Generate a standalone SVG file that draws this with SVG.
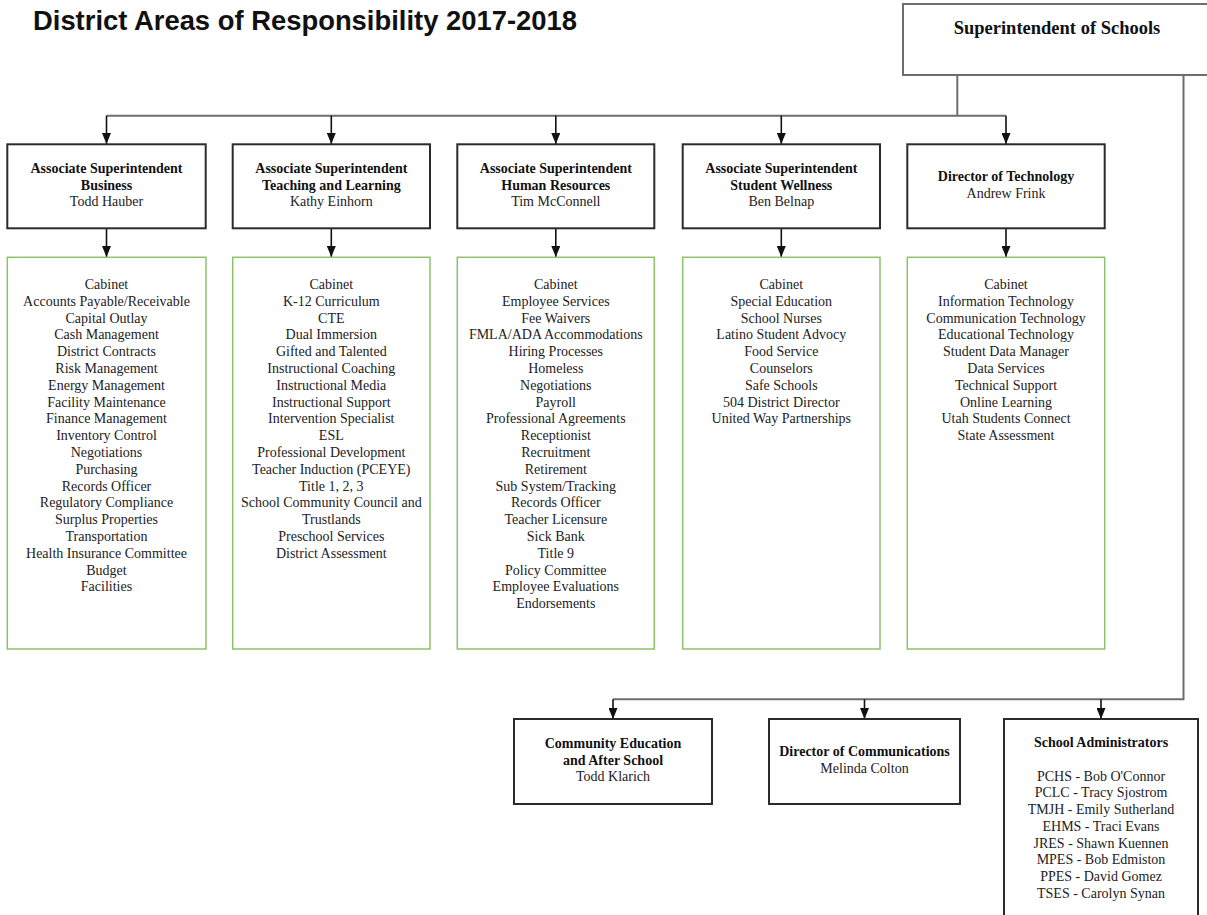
<svg xmlns="http://www.w3.org/2000/svg" width="1207" height="915" viewBox="0 0 1207 915">
<style>
.title{font-family:"Liberation Sans",Arial,sans-serif;font-weight:bold;font-size:27.4px;fill:#111}
.hb{fill:#fff;stroke:#2b2b2b;stroke-width:2}
.gb{fill:#fff;stroke:#8cc26a;stroke-width:1.5}
.sb{fill:#fff;stroke:#6e6e6e;stroke-width:2}
.t{font-family:"Liberation Serif","Times New Roman",serif;font-size:14px;fill:#222;text-anchor:middle}
.b{font-weight:bold;fill:#111}
.big{font-size:18.5px}
.gl{fill:none;stroke:#6e6e6e;stroke-width:2}
.al{fill:none;stroke:#111;stroke-width:1.6;marker-end:url(#ah)}
</style>
<defs>
<marker id="ah" viewBox="0 0 11 9" refX="11" refY="4.5" markerWidth="11" markerHeight="9" markerUnits="userSpaceOnUse" orient="auto">
<path d="M0,0 L11,4.5 L0,9 Z" fill="#111"/>
</marker>
</defs>
<rect width="1207" height="915" fill="#fff"/>
<text class="title" x="33" y="29.5">District Areas of Responsibility 2017-2018</text>

<g id="connectors">
<path class="gl" d="M957.3,75 V115.7"/>
<path class="gl" d="M106.5,115.7 H1006"/>
<path class="gl" d="M1183.5,75 V699.3 H613"/>
<path class="al" d="M106.5,115.7 V144"/>
<path class="al" d="M331.3,115.7 V144"/>
<path class="al" d="M555.8,115.7 V144"/>
<path class="al" d="M781.3,115.7 V144"/>
<path class="al" d="M1006,115.7 V144"/>
<path class="al" d="M106.5,228.3 V257"/>
<path class="al" d="M331.3,228.3 V257"/>
<path class="al" d="M555.8,228.3 V257"/>
<path class="al" d="M781.3,228.3 V257"/>
<path class="al" d="M1006,228.3 V257"/>
<path class="al" d="M613,699.3 V719"/>
<path class="al" d="M864.5,699.3 V719"/>
<path class="al" d="M1101,699.3 V719"/>
</g>

<g id="superintendent">
<rect class="sb" x="903" y="4" width="320" height="71"/>
<text class="t b big" x="1057" y="34">Superintendent of Schools</text>
</g>

<g id="business">
<rect class="hb" x="7.3" y="144.3" width="198.4" height="84"/>
<text class="t b" x="106.5" y="173">Associate Superintendent</text>
<text class="t b" x="106.5" y="189.7">Business</text>
<text class="t" x="106.5" y="206.4">Todd Hauber</text>
</g>
<g id="business-list">
<rect class="gb" x="7.3" y="257.3" width="198.7" height="391.7"/>
<text class="t" x="106.5" y="289">Cabinet</text>
<text class="t" x="106.5" y="305.8">Accounts Payable/Receivable</text>
<text class="t" x="106.5" y="322.6">Capital Outlay</text>
<text class="t" x="106.5" y="339.4">Cash Management</text>
<text class="t" x="106.5" y="356.2">District Contracts</text>
<text class="t" x="106.5" y="373">Risk Management</text>
<text class="t" x="106.5" y="389.8">Energy Management</text>
<text class="t" x="106.5" y="406.6">Facility Maintenance</text>
<text class="t" x="106.5" y="423.4">Finance Management</text>
<text class="t" x="106.5" y="440.2">Inventory Control</text>
<text class="t" x="106.5" y="457">Negotiations</text>
<text class="t" x="106.5" y="473.8">Purchasing</text>
<text class="t" x="106.5" y="490.6">Records Officer</text>
<text class="t" x="106.5" y="507.4">Regulatory Compliance</text>
<text class="t" x="106.5" y="524.2">Surplus Properties</text>
<text class="t" x="106.5" y="541">Transportation</text>
<text class="t" x="106.5" y="557.8">Health Insurance Committee</text>
<text class="t" x="106.5" y="574.6">Budget</text>
<text class="t" x="106.5" y="591.4">Facilities</text>
</g>

<g id="teaching">
<rect class="hb" x="232.7" y="144.3" width="197.3" height="84"/>
<text class="t b" x="331.3" y="173">Associate Superintendent</text>
<text class="t b" x="331.3" y="189.7">Teaching and Learning</text>
<text class="t" x="331.3" y="206.4">Kathy Einhorn</text>
</g>
<g id="teaching-list">
<rect class="gb" x="232.7" y="257.3" width="197.3" height="391.7"/>
<text class="t" x="331.3" y="289">Cabinet</text>
<text class="t" x="331.3" y="305.8">K-12 Curriculum</text>
<text class="t" x="331.3" y="322.6">CTE</text>
<text class="t" x="331.3" y="339.4">Dual Immersion</text>
<text class="t" x="331.3" y="356.2">Gifted and Talented</text>
<text class="t" x="331.3" y="373">Instructional Coaching</text>
<text class="t" x="331.3" y="389.8">Instructional Media</text>
<text class="t" x="331.3" y="406.6">Instructional Support</text>
<text class="t" x="331.3" y="423.4">Intervention Specialist</text>
<text class="t" x="331.3" y="440.2">ESL</text>
<text class="t" x="331.3" y="457">Professional Development</text>
<text class="t" x="331.3" y="473.8">Teacher Induction (PCEYE)</text>
<text class="t" x="331.3" y="490.6">Title 1, 2, 3</text>
<text class="t" x="331.3" y="507.4">School Community Council and</text>
<text class="t" x="331.3" y="524.2">Trustlands</text>
<text class="t" x="331.3" y="541">Preschool Services</text>
<text class="t" x="331.3" y="557.8">District Assessment</text>
</g>

<g id="hr">
<rect class="hb" x="457.3" y="144.3" width="197" height="84"/>
<text class="t b" x="555.8" y="173">Associate Superintendent</text>
<text class="t b" x="555.8" y="189.7">Human Resources</text>
<text class="t" x="555.8" y="206.4">Tim McConnell</text>
</g>
<g id="hr-list">
<rect class="gb" x="457.3" y="257.3" width="197" height="391.7"/>
<text class="t" x="555.8" y="289">Cabinet</text>
<text class="t" x="555.8" y="305.8">Employee Services</text>
<text class="t" x="555.8" y="322.6">Fee Waivers</text>
<text class="t" x="555.8" y="339.4">FMLA/ADA Accommodations</text>
<text class="t" x="555.8" y="356.2">Hiring Processes</text>
<text class="t" x="555.8" y="373">Homeless</text>
<text class="t" x="555.8" y="389.8">Negotiations</text>
<text class="t" x="555.8" y="406.6">Payroll</text>
<text class="t" x="555.8" y="423.4">Professional Agreements</text>
<text class="t" x="555.8" y="440.2">Receptionist</text>
<text class="t" x="555.8" y="457">Recruitment</text>
<text class="t" x="555.8" y="473.8">Retirement</text>
<text class="t" x="555.8" y="490.6">Sub System/Tracking</text>
<text class="t" x="555.8" y="507.4">Records Officer</text>
<text class="t" x="555.8" y="524.2">Teacher Licensure</text>
<text class="t" x="555.8" y="541">Sick Bank</text>
<text class="t" x="555.8" y="557.8">Title 9</text>
<text class="t" x="555.8" y="574.6">Policy Committee</text>
<text class="t" x="555.8" y="591.4">Employee Evaluations</text>
<text class="t" x="555.8" y="608.2">Endorsements</text>
</g>

<g id="wellness">
<rect class="hb" x="682.7" y="144.3" width="197.3" height="84"/>
<text class="t b" x="781.3" y="173">Associate Superintendent</text>
<text class="t b" x="781.3" y="189.7">Student Wellness</text>
<text class="t" x="781.3" y="206.4">Ben Belnap</text>
</g>
<g id="wellness-list">
<rect class="gb" x="682.7" y="257.3" width="197.3" height="391.7"/>
<text class="t" x="781.3" y="289">Cabinet</text>
<text class="t" x="781.3" y="305.8">Special Education</text>
<text class="t" x="781.3" y="322.6">School Nurses</text>
<text class="t" x="781.3" y="339.4">Latino Student Advocy</text>
<text class="t" x="781.3" y="356.2">Food Service</text>
<text class="t" x="781.3" y="373">Counselors</text>
<text class="t" x="781.3" y="389.8">Safe Schools</text>
<text class="t" x="781.3" y="406.6">504 District Director</text>
<text class="t" x="781.3" y="423.4">United Way Partnerships</text>
</g>

<g id="technology">
<rect class="hb" x="907.3" y="144.3" width="197.4" height="84"/>
<text class="t b" x="1006" y="181.4">Director of Technology</text>
<text class="t" x="1006" y="198">Andrew Frink</text>
</g>
<g id="technology-list">
<rect class="gb" x="907.3" y="257.3" width="197.4" height="391.7"/>
<text class="t" x="1006" y="289">Cabinet</text>
<text class="t" x="1006" y="305.8">Information Technology</text>
<text class="t" x="1006" y="322.6">Communication Technology</text>
<text class="t" x="1006" y="339.4">Educational Technology</text>
<text class="t" x="1006" y="356.2">Student Data Manager</text>
<text class="t" x="1006" y="373">Data Services</text>
<text class="t" x="1006" y="389.8">Technical Support</text>
<text class="t" x="1006" y="406.6">Online Learning</text>
<text class="t" x="1006" y="423.4">Utah Students Connect</text>
<text class="t" x="1006" y="440.2">State Assessment</text>
</g>

<g id="community-education">
<rect class="hb" x="514" y="719" width="198" height="85"/>
<text class="t b" x="613" y="748">Community Education</text>
<text class="t b" x="613" y="764.7">and After School</text>
<text class="t" x="613" y="781.4">Todd Klarich</text>
</g>

<g id="communications">
<rect class="hb" x="769" y="719" width="191" height="85"/>
<text class="t b" x="864.5" y="756.4">Director of Communications</text>
<text class="t" x="864.5" y="773.1">Melinda Colton</text>
</g>

<g id="school-administrators">
<rect class="hb" x="1004" y="719" width="194" height="210"/>
<text class="t b" x="1101" y="747">School Administrators</text>
<text class="t" x="1101" y="780.7">PCHS - Bob O'Connor</text>
<text class="t" x="1101" y="797.4">PCLC - Tracy Sjostrom</text>
<text class="t" x="1101" y="814.1">TMJH - Emily Sutherland</text>
<text class="t" x="1101" y="830.8">EHMS - Traci Evans</text>
<text class="t" x="1101" y="847.5">JRES - Shawn Kuennen</text>
<text class="t" x="1101" y="864.2">MPES - Bob Edmiston</text>
<text class="t" x="1101" y="880.9">PPES - David Gomez</text>
<text class="t" x="1101" y="897.6">TSES - Carolyn Synan</text>
</g>
</svg>
